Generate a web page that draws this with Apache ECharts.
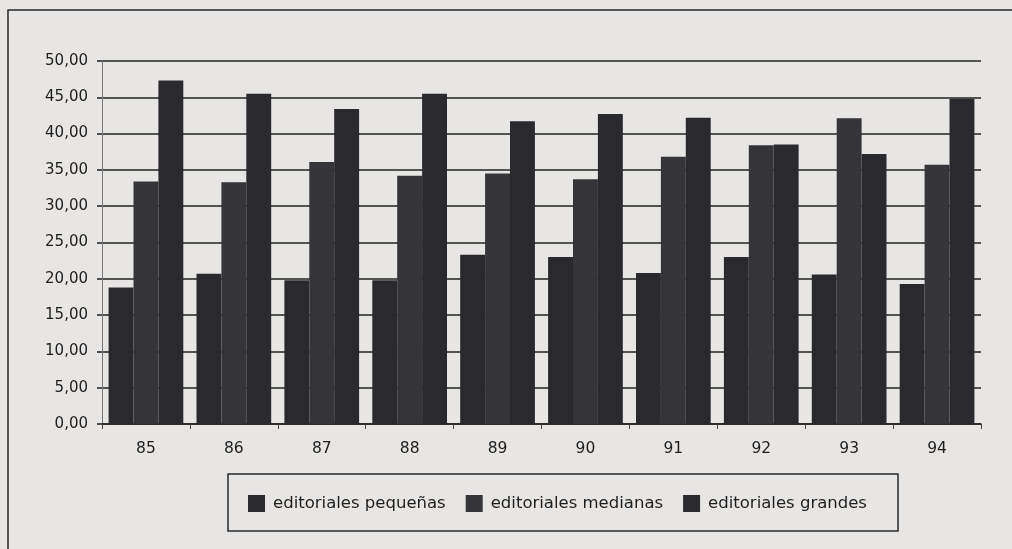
<!DOCTYPE html>
<html>
<head>
    <meta charset="UTF-8">
    <title>Editoriales</title>
    <script src="https://cdn.jsdelivr.net/npm/echarts@6/dist/echarts.min.js"></script>
    <style>
        html, body { margin: 0; padding: 0; background: #e8e6e4; }
        #main { width: 1012px; height: 549px; }
    </style>
</head>
<body>
    <div id="main"></div>
    <script>
        // datos
        const years = ['85', '86', '87', '88', '89', '90', '91', '92', '93', '94'];
        const pequenas = [18.8, 20.7, 19.8, 19.8, 23.3, 23.0, 20.8, 23.0, 20.6, 19.3];
        const medianas = [33.4, 33.3, 36.1, 34.2, 34.5, 33.7, 36.8, 38.4, 42.1, 35.7];
        const grandes = [47.3, 45.5, 43.4, 45.5, 41.7, 42.7, 42.2, 38.5, 37.2, 44.8];
        const seriesNames = ['editoriales pequeñas', 'editoriales medianas', 'editoriales grandes'];

        const barColor = '#2a292e';
        const font = 'DejaVu Sans, sans-serif';

        const chart = echarts.init(document.getElementById('main'));
        const mkSeries = (name, data, color) => ({
            name: name,
            type: 'bar',
            data: data,
            barGap: '0%',
            barCategoryGap: '15%',
            itemStyle: { color: color },
            animation: false
        });

        chart.setOption({
            backgroundColor: '#e8e6e4',
            graphic: [{
                // marco exterior (solo arriba e izquierda quedan dentro de la imagen)
                type: 'polyline',
                shape: { points: [[8, 549], [8, 10], [1012, 10]] },
                style: { fill: 'none', stroke: '#2a2a2a', lineWidth: 1.5 },
                z: -1
            }, {
                type: 'rect',
                shape: { x: 228, y: 474, width: 670, height: 57 },
                style: { fill: 'none', stroke: '#2a2a2a', lineWidth: 1.5 },
                z: -1
            }],
            grid: { left: 102, right: 31, top: 61, bottom: 125 },
            legend: {
                data: seriesNames,
                left: 243,
                top: 490,
                itemWidth: 17,
                itemHeight: 17,
                itemGap: 20,
                icon: 'rect',
                textStyle: {
                    fontFamily: font, fontSize: 16.5, color: '#1e1e1e',
                    padding: [0, 0, 0, 3]
                }
            },
            xAxis: {
                type: 'category',
                data: years,
                axisLine: { lineStyle: { color: '#222', width: 1.5 } },
                axisTick: { show: true, lineStyle: { color: '#444' }, length: 5 },
                axisLabel: { fontFamily: font, fontSize: 15.5, color: '#1e1e1e', margin: 17 },
                splitLine: { show: false }
            },
            yAxis: {
                type: 'value',
                min: 0,
                max: 50,
                interval: 5,
                axisLine: { show: true, lineStyle: { color: '#777', width: 1 } },
                axisTick: { show: true, length: 5, lineStyle: { color: '#222', width: 1.5 } },
                axisLabel: {
                    fontFamily: font, fontSize: 15, color: '#1e1e1e', margin: 14,
                    formatter: v => v.toFixed(2).replace('.', ',')
                },
                splitLine: { lineStyle: { color: '#222', width: 1.5 } }
            },
            series: [
                mkSeries(seriesNames[0], pequenas, barColor),
                mkSeries(seriesNames[1], medianas, '#353439'),
                mkSeries(seriesNames[2], grandes, barColor)
            ]
        });
    </script>
</body>
</html>
